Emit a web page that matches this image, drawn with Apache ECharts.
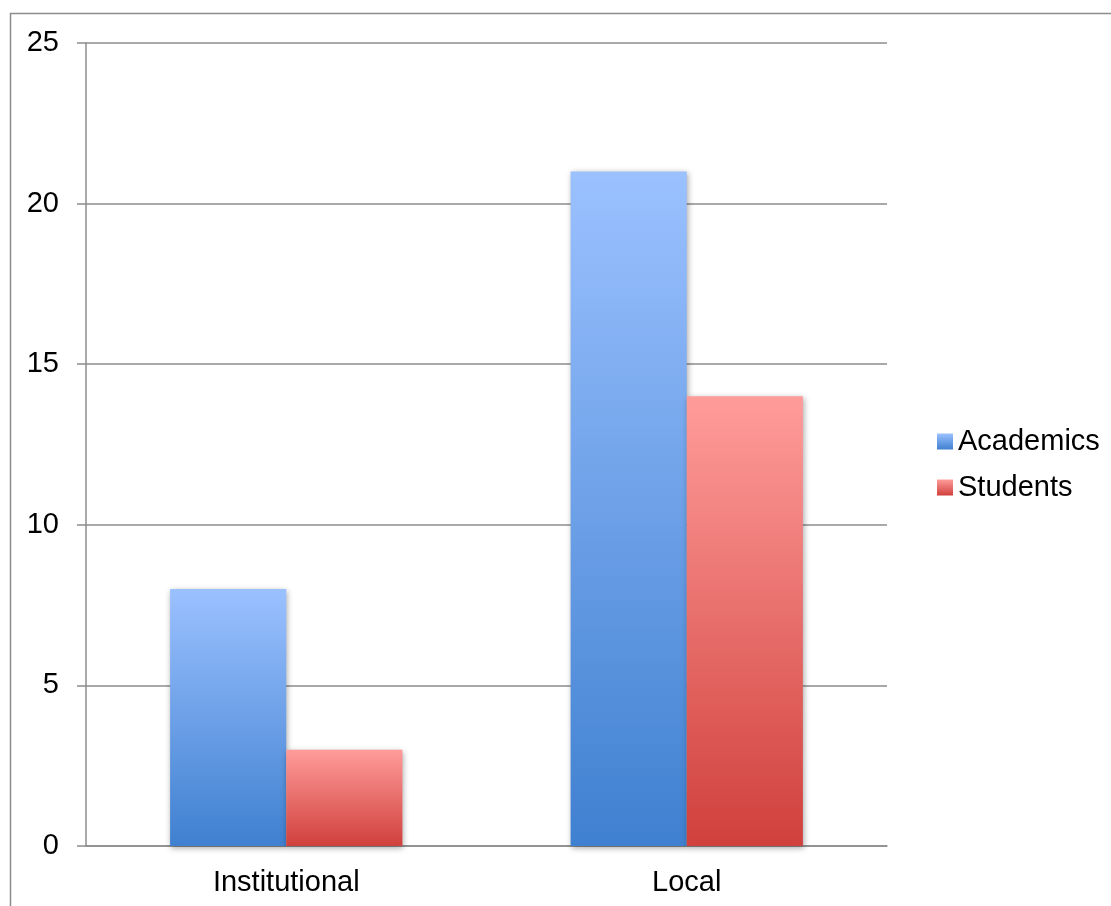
<!DOCTYPE html>
<html><head><meta charset="utf-8">
<script src="https://cdn.jsdelivr.net/npm/echarts@6/dist/echarts.min.js"></script>
<style>html,body{margin:0;padding:0;background:#fff}#c{width:1111px;height:906px}</style>
</head><body><div id="c"></div>
<script>
const categories = ['Institutional', 'Local'];
const academics = [8, 21];
const students = [3, 14];
const seriesNames = ['Academics', 'Students'];

const chart = echarts.init(document.getElementById('c'));
function grad(top, bottom) {
  return new echarts.graphic.LinearGradient(0, 0, 0, 1, [
    {offset: 0, color: top}, {offset: 1, color: bottom}
  ]);
}
const font = 'Liberation Sans, Arial, sans-serif';
chart.setOption({
  animation: false,
  textStyle: {fontFamily: font},
  graphic: [{type: 'rect', shape: {x: 10.5, y: 13.5, width: 1120, height: 920},
    style: {fill: 'none', stroke: '#8c8c8c', lineWidth: 1.5}, silent: true, z: -1}],
  grid: {left: 86, right: 224, top: 43, bottom: 60, containLabel: false},
  legend: {
    orient: 'vertical', left: 932, top: 422, itemWidth: 16, itemHeight: 16, itemGap: 17,
    icon: 'rect',
    textStyle: {fontSize: 29, color: '#000', fontFamily: font},
    data: seriesNames
  },
  xAxis: {
    type: 'category', data: categories,
    axisLine: {lineStyle: {color: '#8c8c8c', width: 1.5}},
    axisTick: {length: 9, lineStyle: {color: '#8c8c8c', width: 1.5}},
    axisLabel: {fontSize: 29, color: '#000', margin: 22, fontFamily: font}
  },
  yAxis: {
    type: 'value', min: 0, max: 25, interval: 5,
    axisLine: {show: true, lineStyle: {color: '#8c8c8c', width: 1.5}},
    axisTick: {show: true, length: 9, lineStyle: {color: '#8c8c8c', width: 1.5}},
    axisLabel: {fontSize: 29, color: '#000', margin: 27, fontFamily: font},
    splitLine: {lineStyle: {color: '#8c8c8c', width: 1.5}}
  },
  series: [
    {name: seriesNames[0], type: 'bar', data: academics, barGap: '0%', barCategoryGap: '42%',
     itemStyle: {color: grad('#9bc1ff', '#3f80d0'), shadowBlur: 6, shadowColor: 'rgba(0,0,0,0.35)', shadowOffsetX: 1, shadowOffsetY: 2}},
    {name: seriesNames[1], type: 'bar', data: students, barGap: '0%', barCategoryGap: '42%',
     itemStyle: {color: grad('#ff9c9a', '#d0403c'), shadowBlur: 6, shadowColor: 'rgba(0,0,0,0.35)', shadowOffsetX: 1, shadowOffsetY: 2}}
  ]
});
</script></body></html>
